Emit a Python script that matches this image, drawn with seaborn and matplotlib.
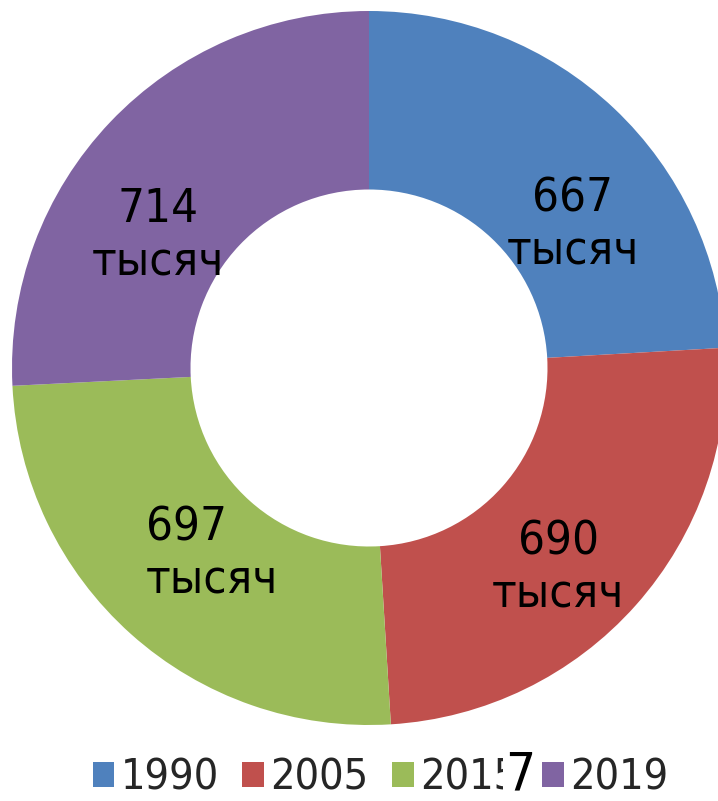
import matplotlib
matplotlib.use('Agg')
import matplotlib.pyplot as plt
import seaborn as sns

# data
years = ['1990', '2005', '2015', '2019']
values = [667, 690, 697, 714]
labels = ['667\nтысяч', '690\nтысяч', '697\nтысяч', '714\nтысяч']
colors = ['#4F81BD', '#C0504D', '#9BBB59', '#8064A2']

# label anchor points inside the ring (manually placed like the original)
label_pos = [(0.57, 0.40), (0.53, -0.56), (-0.44, -0.52), (-0.59, 0.37)]
label_align = ['center', 'center', 'left', 'center']

sns.set_theme(style='white')
plt.rcParams['font.family'] = ['DejaVu Sans']
plt.rcParams['font.stretch'] = 'condensed'

fig = plt.figure(figsize=(7.18, 8.01), dpi=100)
ax = fig.add_axes([12 / 718, 76 / 801, 714 / 718, 714 / 801])

wedges, _ = ax.pie(values, colors=colors, startangle=90, counterclock=False,
                   radius=1.0, wedgeprops=dict(width=0.5, linewidth=0))
ax.set_xlim(-1, 1)
ax.set_ylim(-1, 1)
ax.set_aspect('equal')
ax.axis('off')

for (x, y), lab, al in zip(label_pos, labels, label_align):
    ax.text(x, y, lab, ha='center', va='center', fontsize=34,
            linespacing=1.2, color='black', multialignment=al,
            fontstretch='condensed')

leg = fig.legend(wedges, years, loc='center', bbox_to_anchor=(0.53, 0.029),
                 ncol=4, frameon=False, handlelength=0.5,
                 handleheight=0.5, handletextpad=0.15, columnspacing=0.55,
                 borderpad=0, prop=dict(size=31, stretch='condensed'))

# stray "7" overlapping the 2015 legend entry
fig.text(520 / 718, 1 - 775 / 801, '7', ha='center', va='center',
         fontsize=38, color='black', fontstretch='condensed', zorder=10,
         bbox=dict(facecolor='white', edgecolor='none', pad=1))

fig.savefig('out.png', dpi=100)
